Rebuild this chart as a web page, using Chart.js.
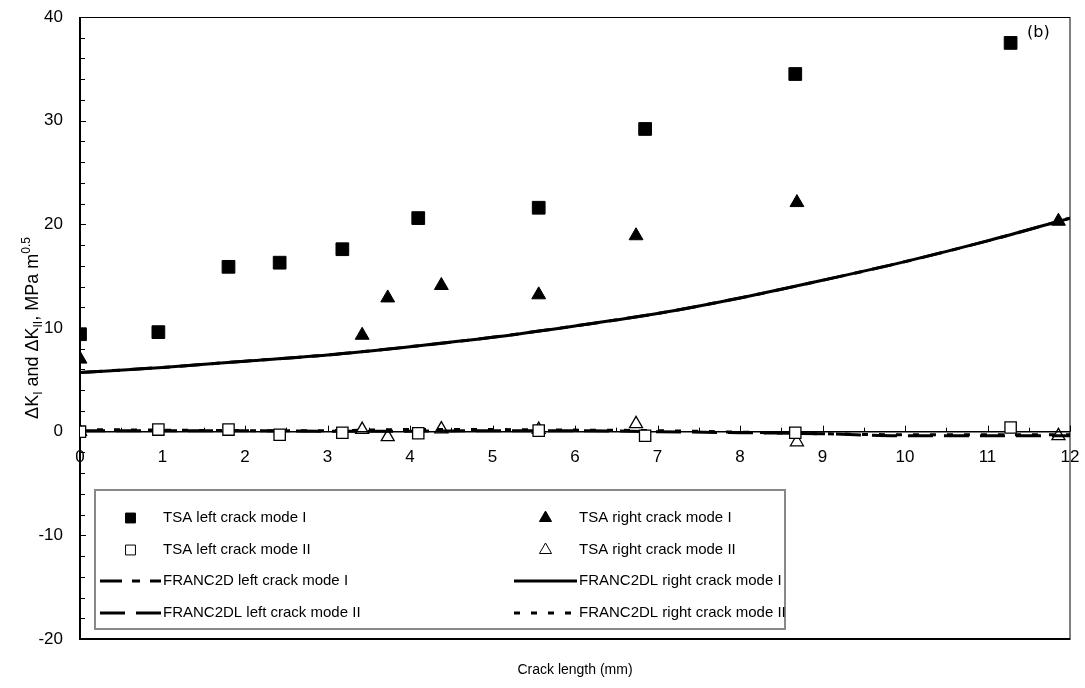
<!DOCTYPE html>
<html>
<head>
<meta charset="utf-8">
<script src="https://cdn.jsdelivr.net/npm/chart.js@4.4.1/dist/chart.umd.min.js"></script>
<style>
  html, body { margin: 0; padding: 0; background: #fff; }
  #wrap { position: relative; width: 1085px; height: 688px; }
</style>
</head>
<body>
<div id="wrap"><canvas id="c" width="1085" height="688"></canvas></div>
<script>
// ---- data ----
const tsaLeftIX = [0, 0.95, 1.8, 2.42, 3.18, 4.1, 5.56, 6.85, 8.67, 11.28];
const tsaLeftIY = [9.4, 9.6, 15.9, 16.3, 17.6, 20.6, 21.6, 29.2, 34.5, 37.5];
const tsaRightIX = [0, 3.42, 3.73, 4.38, 5.56, 6.74, 8.69, 11.86];
const tsaRightIY = [7.0, 9.3, 12.9, 14.1, 13.2, 18.9, 22.1, 20.3];
const tsaLeftIIX = [0, 0.95, 1.8, 2.42, 3.18, 4.1, 5.56, 6.85, 8.67, 11.28];
const tsaLeftIIY = [0.0, 0.2, 0.2, -0.3, -0.1, -0.15, 0.1, -0.4, -0.1, 0.4];
const tsaRightIIX = [0, 3.42, 3.73, 4.38, 5.56, 6.74, 8.69, 11.86];
const tsaRightIIY = [0.0, 0.2, -0.5, 0.25, 0.2, 0.75, -1.0, -0.4];
const femX = [0, 1, 2, 3, 4, 5, 6, 7, 8, 9, 10, 11, 12];
const franc2dLeftI = [5.7, 6.2, 6.8, 7.4, 8.2, 9.1, 10.2, 11.4, 12.9, 14.6, 16.4, 18.4, 20.6];
const franc2dlRightI = [5.7, 6.2, 6.8, 7.4, 8.2, 9.1, 10.2, 11.4, 12.9, 14.6, 16.4, 18.4, 20.6];
const franc2dlLeftII = [0.1, 0.1, 0.1, 0.05, 0.05, 0.1, 0.1, 0.0, -0.1, -0.2, -0.4, -0.4, -0.4];
const franc2dlRightII = [0.2, 0.15, 0.1, 0.1, 0.2, 0.2, 0.15, 0.1, -0.05, -0.2, -0.3, -0.3, -0.3];
const xTicks = [0, 1, 2, 3, 4, 5, 6, 7, 8, 9, 10, 11, 12];
const yTicks = [-20, -10, 0, 10, 20, 30, 40];
const legendLabels = [
  'TSA left crack mode I', 'TSA right crack mode I',
  'TSA left crack mode II', 'TSA right crack mode II',
  'FRANC2D left crack mode I', 'FRANC2DL right crack mode I',
  'FRANC2DL left crack mode II', 'FRANC2DL right crack mode II'
];
const xTitle = 'Crack length (mm)';
const panelLabel = '(b)';

const pts = (xs, ys) => xs.map((x, i) => ({ x: x, y: ys[i] }));
const FONT = '"Liberation Sans", Arial, sans-serif';

const datasets = [
  { label: legendLabels[0], data: pts(tsaLeftIX, tsaLeftIY), pointStyle: 'rect', pointRadius: 9,
    backgroundColor: '#000', borderColor: '#000', borderWidth: 1, showLine: false, order: 1 },
  { label: legendLabels[1], data: pts(tsaRightIX, tsaRightIY), pointStyle: 'triangle', pointRadius: 8,
    backgroundColor: '#000', borderColor: '#000', borderWidth: 1, showLine: false, order: 1 },
  { label: legendLabels[2], data: pts(tsaLeftIIX, tsaLeftIIY), pointStyle: 'rect', pointRadius: 8,
    backgroundColor: '#fff', borderColor: '#000', borderWidth: 1.3, showLine: false, order: 1 },
  { label: legendLabels[3], data: pts(tsaRightIIX, tsaRightIIY), pointStyle: 'triangle', pointRadius: 7.5,
    backgroundColor: 'rgba(255,255,255,0)', borderColor: '#000', borderWidth: 1.3, showLine: false, order: 1 },
  { label: legendLabels[4], data: pts(femX, franc2dLeftI), showLine: true, pointRadius: 0, borderColor: '#000',
    borderWidth: 3, borderDash: [22, 10, 8, 10], cubicInterpolationMode: 'monotone', order: 2 },
  { label: legendLabels[5], data: pts(femX, franc2dlRightI), showLine: true, pointRadius: 0, borderColor: '#000',
    borderWidth: 3, borderDash: [], cubicInterpolationMode: 'monotone', order: 2 },
  { label: legendLabels[6], data: pts(femX, franc2dlLeftII), showLine: true, pointRadius: 0, borderColor: '#000',
    borderWidth: 3, borderDash: [25, 11], cubicInterpolationMode: 'monotone', order: 2 },
  { label: legendLabels[7], data: pts(femX, franc2dlRightII), showLine: true, pointRadius: 0, borderColor: '#000',
    borderWidth: 3, borderDash: [6, 11], cubicInterpolationMode: 'monotone', order: 2 }
];

const decor = {
  id: 'decor',
  beforeDatasetsDraw(chart) {
    const { ctx, chartArea: a, scales: { x, y } } = chart;
    ctx.save();
    ctx.strokeStyle = '#000';
    ctx.lineWidth = 1;
    ctx.strokeRect(a.left, a.top + 0.5, a.right - a.left, a.bottom - a.top);
    ctx.lineWidth = 2;
    ctx.beginPath();
    ctx.moveTo(a.left, a.top); ctx.lineTo(a.left, a.bottom); ctx.lineTo(a.right, a.bottom);
    ctx.stroke();
    const y0 = y.getPixelForValue(0);
    ctx.lineWidth = 1.5;
    ctx.beginPath(); ctx.moveTo(a.left, y0); ctx.lineTo(a.right, y0); ctx.stroke();
    ctx.lineWidth = 1;
    for (let v = 0; v <= 12.001; v += 0.5) {
      const px = Math.round(x.getPixelForValue(v)) + 0.5;
      const len = Math.abs(v - Math.round(v)) < 1e-6 ? 6 : 4;
      ctx.beginPath(); ctx.moveTo(px, y0); ctx.lineTo(px, y0 - len); ctx.stroke();
    }
    for (let v = -20; v <= 40.001; v += 2) {
      const py = Math.round(y.getPixelForValue(v)) + 0.5;
      const len = v % 10 === 0 ? 6 : 5;
      ctx.beginPath(); ctx.moveTo(a.left, py); ctx.lineTo(a.left + len, py); ctx.stroke();
    }
    ctx.restore();
  },
  afterDraw(chart) {
    const { ctx, chartArea: a } = chart;
    ctx.save();
    ctx.fillStyle = '#000';
    ctx.font = '16px "DejaVu Sans", sans-serif';
    ctx.textBaseline = 'middle';
    ctx.textAlign = 'left';
    ctx.fillText(panelLabel, a.right - 43, a.top + 16);

    ctx.font = '14px ' + FONT;
    ctx.textAlign = 'center';
    ctx.fillText(xTitle, (a.left + a.right) / 2, 670);

    const parts = [
      ['ΔK', 18, 0], ['I', 12, 4], [' and ΔK', 18, 0], ['II', 12, 4], [', MPa m', 18, 0], ['0.5', 12, -8]
    ];
    let total = 0;
    parts.forEach(p => { ctx.font = p[1] + 'px ' + FONT; total += ctx.measureText(p[0]).width; });
    ctx.translate(38, (a.top + a.bottom) / 2);
    ctx.rotate(-Math.PI / 2);
    let cx = -total / 2;
    ctx.textAlign = 'left';
    ctx.textBaseline = 'alphabetic';
    parts.forEach(p => {
      ctx.font = p[1] + 'px ' + FONT;
      ctx.fillText(p[0], cx, p[2]);
      cx += ctx.measureText(p[0]).width;
    });
    ctx.restore();

    // legend
    ctx.save();
    const bx = 95, by = 490, bw = 690, bh = 139;
    ctx.fillStyle = '#fff';
    ctx.fillRect(bx, by, bw, bh);
    ctx.strokeStyle = '#888';
    ctx.lineWidth = 2;
    ctx.strokeRect(bx, by, bw, bh);
    const rows = [518, 550, 581, 613];
    const cols = [{ s: 100, e: 161 }, { s: 514, e: 577 }];
    ctx.font = '15px ' + FONT;
    ctx.textBaseline = 'middle';
    chart.data.datasets.forEach((ds, i) => {
      const ry = rows[Math.floor(i / 2)];
      const col = cols[i % 2];
      if (ds.showLine) {
        ctx.strokeStyle = '#000';
        ctx.lineWidth = 3;
        ctx.setLineDash(ds.borderDash || []);
        ctx.beginPath(); ctx.moveTo(col.s, ry); ctx.lineTo(col.e, ry); ctx.stroke();
        ctx.setLineDash([]);
      } else {
        ctx.fillStyle = ds.backgroundColor;
        ctx.strokeStyle = ds.borderColor;
        ctx.lineWidth = 1;
        Chart.helpers.drawPoint(ctx, { pointStyle: ds.pointStyle, radius: 7, borderWidth: 1, rotation: 0 },
          (col.s + col.e) / 2, ry);
      }
      ctx.fillStyle = '#000';
      ctx.textAlign = 'left';
      ctx.fillText(ds.label, col.e + 2, ry);
    });
    ctx.restore();
  }
};

const zeroPad = s => { s.paddingLeft = 0; s.paddingRight = 0; s.paddingTop = 0; s.paddingBottom = 0; };

new Chart(document.getElementById('c'), {
  type: 'scatter',
  data: { datasets: datasets },
  options: {
    responsive: false,
    animation: false,
    devicePixelRatio: 1,
    layout: { padding: { left: 10, right: 15, top: 17, bottom: 49 } },
    plugins: { legend: { display: false }, tooltip: { enabled: false }, title: { display: false } },
    scales: {
      x: {
        type: 'linear', min: 0, max: 12, position: { y: 0 },
        afterBuildTicks: s => { s.ticks = xTicks.map(v => ({ value: v })); },
        afterFit: s => { zeroPad(s); },
        ticks: { color: '#000', font: { family: FONT, size: 17 }, padding: 15 },
        grid: { display: false, drawTicks: false },
        border: { display: false }
      },
      y: {
        type: 'linear', min: -20, max: 40,
        afterBuildTicks: s => { s.ticks = yTicks.map(v => ({ value: v })); },
        afterFit: s => { s.width = 70; zeroPad(s); },
        ticks: { color: '#000', font: { family: FONT, size: 17 }, padding: 17 },
        grid: { display: false, drawTicks: false },
        border: { display: false }
      }
    }
  },
  plugins: [decor]
});
</script>
</body>
</html>
